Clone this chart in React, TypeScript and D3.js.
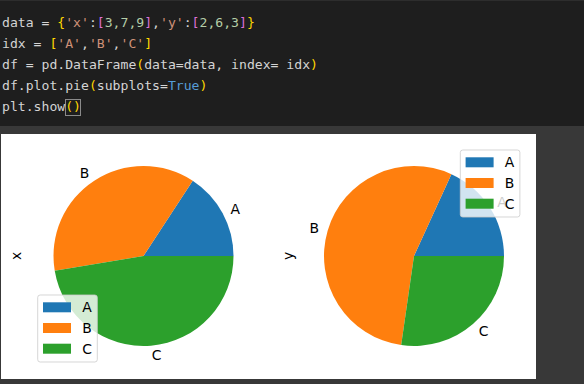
import React from "react";
import * as d3 from "d3";

const categories = ["A", "B", "C"];
const xValues = [3, 7, 9];
const yValues = [2, 6, 3];
const seriesNames = ["x", "y"];
const colors = ["#1f77b4", "#ff7f0e", "#2ca02c"];

// code cell tokens: [text, color]
const LT = "#d4d4d4";
const GOLD = "#ffd700";
const STR = "#ce9178";
const MAG = "#da70d6";
const NUM = "#b5cea8";
const KW = "#569cd6";
const codeLines: [string, string][][] = [
  [["data = ", LT], ["{", GOLD], ["'x'", STR], [":", LT], ["[", MAG], ["3,7,9", NUM], ["]", MAG], [",", LT], ["'y'", STR], [":", LT], ["[", MAG], ["2,6,3", NUM], ["]", MAG], ["}", GOLD]],
  [["idx = ", LT], ["[", GOLD], ["'A'", STR], [",", LT], ["'B'", STR], [",", LT], ["'C'", STR], ["]", GOLD]],
  [["df = pd.DataFrame", LT], ["(", GOLD], ["data=data, index= idx", LT], [")", GOLD]],
  [["df.plot.pie", LT], ["(", GOLD], ["subplots=", LT], ["True", KW], [")", GOLD]],
  [["plt.show", LT], ["()", GOLD]],
];

const CW = 7.9;
const CX0 = 2;

function Pie({ values, cx, cy, r, name, legendX, legendY, ylabelX }: any) {
  const pie = d3.pie<number>().sort(null).startAngle(Math.PI / 2).endAngle(Math.PI / 2 - 2 * Math.PI);
  const arcs = pie(values);
  const arc = d3.arc<any>().innerRadius(0).outerRadius(r);
  const font = "DejaVu Sans, sans-serif";
  return (
    <g>
      {arcs.map((a, i) => (
        <path key={i} d={arc(a) as string} transform={`translate(${cx},${cy})`} fill={colors[i]} />
      ))}
      {arcs.map((a, i) => {
        const m = (a.startAngle + a.endAngle) / 2;
        const lx = cx + 1.1 * r * Math.sin(m);
        const ly = cy - 1.1 * r * Math.cos(m);
        return (
          <text key={i} x={lx} y={ly + 5} fontFamily={font} fontSize={13.9} fill="#000" textAnchor={lx > cx ? "start" : "end"}>
            {categories[i]}
          </text>
        );
      })}
      <text transform={`translate(${ylabelX},${cy}) rotate(-90)`} fontFamily={font} fontSize={13.9} textAnchor="middle" dy={4}>
        {name}
      </text>
      <g transform={`translate(${legendX},${legendY})`}>
        <rect x={0} y={0} width={59.6} height={67} rx={2.5} fill="white" fillOpacity={0.8} stroke="#cccccc" strokeOpacity={0.8} strokeWidth={1} />
        {categories.map((c, i) => (
          <g key={c}>
            <rect x={5.3} y={7.3 + i * 20.7} width={28} height={10} fill={colors[i]} />
            <text x={44.5} y={17.3 + i * 20.7} fontFamily={font} fontSize={13.9} fill="#000">{c}</text>
          </g>
        ))}
      </g>
    </g>
  );
}

export default function App() {
  return (
    <svg width={584} height={384} style={{ position: "absolute", left: 0, top: 0 }}>
      <rect x={0} y={0} width={584} height={384} fill="#383838" />
      <rect x={0} y={0} width={584} height={126} fill="#1e1e1e" />
      <rect x={0} y={0} width={584} height={1} fill="#2d2d2d" />
      <rect x={65.5} y={99.5} width={15} height={16} fill="#1e1e1e" stroke="#8a8a8a" strokeWidth={1} />
      {codeLines.map((line, li) => (
        <text key={li} x={CX0} y={27.2 + li * 21} fontFamily="DejaVu Sans Mono, monospace" fontSize={13} textLength={line.reduce((s, t) => s + t[0].length, 0) * CW} lengthAdjust="spacingAndGlyphs" style={{ whiteSpace: "pre" }}>
          {line.map(([t, c], ti) => (
            <tspan key={ti} fill={c}>{t}</tspan>
          ))}
        </text>
      ))}
      <rect x={1} y={134} width={535} height={245} fill="#ffffff" />
      <Pie values={xValues} cx={143.5} cy={256} r={90} name={seriesNames[0]} legendX={37.7} legendY={295} ylabelX={17} />
      <Pie values={yValues} cx={414} cy={256} r={90} name={seriesNames[1]} legendX={460.3} legendY={150} ylabelX={289} />
    </svg>
  );
}
